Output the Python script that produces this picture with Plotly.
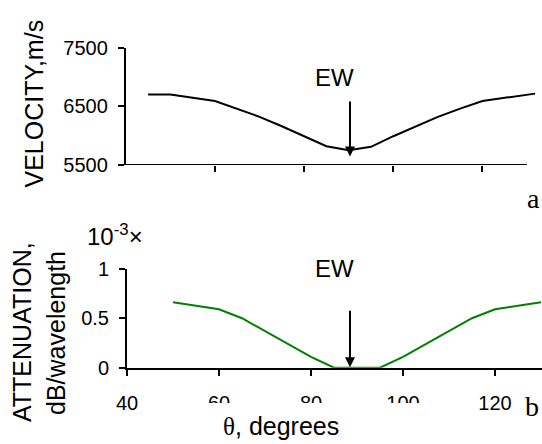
import plotly.graph_objects as go

# ---- data ----
theta_v = [45, 50, 60, 65, 70, 75, 80, 85, 90, 95, 100, 105, 110, 115, 120, 131.8]
velocity = [6700, 6700, 6590, 6460, 6320, 6160, 5990, 5820, 5750, 5810, 5990, 6160, 6320, 6460, 6590, 6715]

theta_a = [50, 60, 65, 70, 75, 80, 85, 90, 95, 100, 105, 110, 115, 120, 130]
atten = [0.66, 0.59, 0.50, 0.37, 0.24, 0.11, 0.0, 0.0, 0.0, 0.11, 0.24, 0.37, 0.50, 0.59, 0.66]

v_ticks = [5500, 6500, 7500]
a_ticks = [0, 0.5, 1]
a_tick_text = ["0", "0.5", "1"]
x_ticks = [40, 60, 80, 100, 120]

W, H = 542, 444
SANS = "Liberation Sans, Arial, sans-serif"
SERIF = "Liberation Serif, Times New Roman, serif"


def px(x):
    return x / W


def py(y):
    return 1 - y / H


fig = go.Figure()
fig.add_trace(go.Scatter(x=theta_v, y=velocity, mode="lines",
                         line=dict(color="black", width=2), xaxis="x", yaxis="y",
                         showlegend=False, hoverinfo="skip"))
fig.add_trace(go.Scatter(x=theta_a, y=atten, mode="lines",
                         line=dict(color="#008000", width=2), xaxis="x2", yaxis="y2",
                         showlegend=False, hoverinfo="skip"))

tickfont = dict(family=SANS, size=20, color="black")
common = dict(showgrid=False, zeroline=False, ticklen=6, tickwidth=2, tickcolor="black",
              automargin=False)

top_x_range = [40, 40 + (538 - 125.8) / 4.458]
bot_x_range = [40, 40 + (542 - 127) / 4.6]

fig.update_layout(
    template="none",
    width=W, height=H, autosize=False,
    margin=dict(l=0, r=0, t=0, b=0, pad=0),
    paper_bgcolor="white", plot_bgcolor="white",
    xaxis=dict(domain=[px(125.8), px(538)], range=top_x_range, anchor="y",
               showline=False, ticks="outside", tickvals=x_ticks[1:],
               showticklabels=False, **common),
    xaxis3=dict(overlaying="x", range=top_x_range, anchor="y",
                showline=False, ticks="inside", tickvals=x_ticks[1:],
                showticklabels=False, **common),
    yaxis=dict(domain=[py(165), py(47.5)], range=[5500, 7500], anchor="x",
               showline=True, linewidth=2, linecolor="black",
               ticks="outside", tickvals=v_ticks, tickfont=tickfont,
               ticklabelstandoff=6, **common),
    yaxis3=dict(overlaying="y", range=[5500, 7500], anchor="x",
                showline=False, ticks="inside", tickvals=v_ticks,
                showticklabels=False, **common),
    xaxis2=dict(domain=[px(127), 1.0], range=bot_x_range, anchor="y2",
                showline=True, linewidth=2, linecolor="black", layer="below traces",
                ticks="outside", tickvals=x_ticks, tickfont=tickfont,
                ticklabelstandoff=10, **common),
    xaxis4=dict(overlaying="x2", range=bot_x_range, anchor="y2",
                showline=False, ticks="inside", tickvals=x_ticks,
                showticklabels=False, **common),
    yaxis2=dict(domain=[py(367.7), py(268.7)], range=[0, 1], anchor="x2",
                showline=True, linewidth=2, linecolor="black", layer="below traces",
                ticks="outside", tickvals=a_ticks, ticktext=a_tick_text,
                tickfont=tickfont, ticklabelstandoff=6, **common),
    yaxis4=dict(overlaying="y2", range=[0, 1], anchor="x2",
                showline=False, ticks="inside", tickvals=a_ticks,
                showticklabels=False, **common),
)

# top x axis line (stops at 130 while the curve runs a little further)
fig.add_shape(type="line", xref="x", yref="y", x0=40, x1=130, y0=5500, y1=5500,
              line=dict(color="black", width=2))

ann = []
# axis titles
ann.append(dict(text="VELOCITY,m/s", x=px(33), y=py(103.5), textangle=-90,
                font=dict(family=SANS, size=25, color="black")))
ann.append(dict(text="ATTENUATION,", x=px(22), y=py(332), textangle=-90,
                font=dict(family=SANS, size=25, color="black")))
ann.append(dict(text="dB/wavelength", x=px(56), y=py(333), textangle=-90,
                font=dict(family=SANS, size=25, color="black")))
ann.append(dict(text="10<sup>-3</sup>×", x=px(85), y=py(235), xanchor="left",
                font=dict(family=SANS, size=24, color="black")))
# EW labels
for yy in (77.5, 268.3):
    ann.append(dict(text="EW", x=px(334), y=py(yy),
                    font=dict(family=SANS, size=24, color="black")))
# arrows
ann.append(dict(text="", x=px(350), y=py(156.5), ax=0, ay=-56.5, showarrow=True,
                arrowhead=2, arrowwidth=2, arrowsize=1, arrowcolor="black", standoff=0))
ann.append(dict(text="", x=px(350), y=py(367.3), ax=0, ay=-58, showarrow=True,
                arrowhead=2, arrowwidth=2, arrowsize=1, arrowcolor="black", standoff=0))
# panel letters
ann.append(dict(text="a", x=px(533), y=py(198),
                font=dict(family=SERIF, size=28, color="black")))
ann.append(dict(text="b", x=px(532), y=py(406),
                font=dict(family=SERIF, size=28, color="black")))
# white box of the x-axis title (overlaps the tick labels)
ann.append(dict(text=" ", x=px(315), y=py(423.5), width=230, height=41,
                bgcolor="white", borderpad=0, borderwidth=0,
                font=dict(family=SANS, size=10, color="white")))
ann.append(dict(text='<span style="font-family:Liberation Serif">θ</span>, degrees',
                x=px(281), y=py(426),
                font=dict(family=SANS, size=25, color="black")))

for a in ann:
    a.setdefault("xref", "paper")
    a.setdefault("yref", "paper")
    a.setdefault("xanchor", "center")
    a.setdefault("yanchor", "middle")
    a.setdefault("showarrow", False)
    fig.add_annotation(**a)

# place the figure at the window's top-left corner (no default page margin)
fig.write_html("out.html",
               config={"displayModeBar": False},
               post_script="document.body.style.margin='0';document.body.style.overflow='hidden';")
